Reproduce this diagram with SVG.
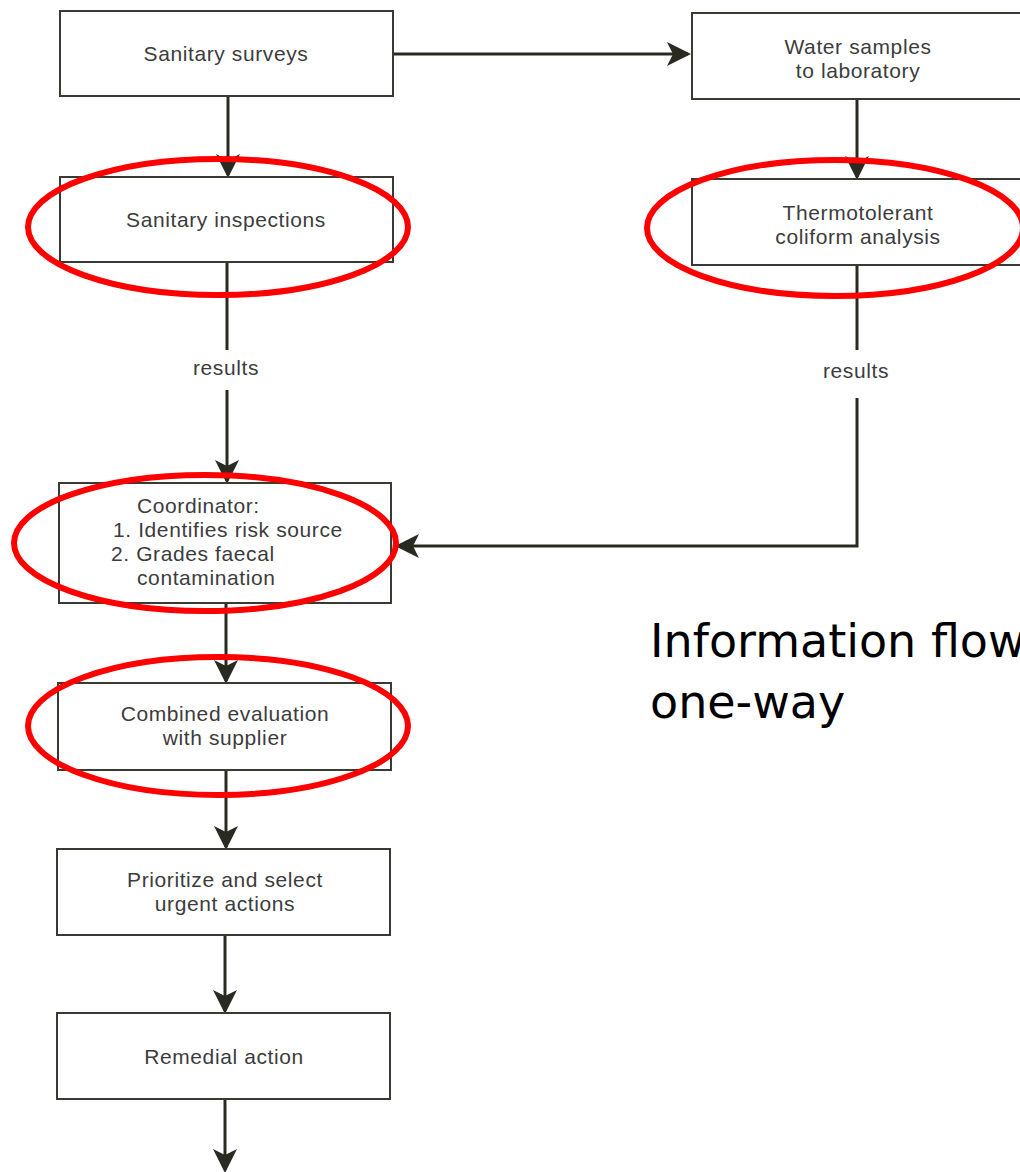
<svg xmlns="http://www.w3.org/2000/svg" width="1020" height="1172" viewBox="0 0 1020 1172">
<style>
.box{fill:#fff;stroke:#3a3a32;stroke-width:2}
.t{font-family:"Liberation Sans",Arial,sans-serif;font-size:21px;letter-spacing:0.6px;fill:#3c3c3c;text-anchor:middle}
.l{text-anchor:start}
.c{fill:none;stroke:#2a2a22;stroke-width:3}
.ring{fill:none;stroke:#f00;stroke-width:6}
.big{font-family:"DejaVu Sans",Tahoma,sans-serif;font-size:46px;fill:#000}
</style>
<defs>
<marker id="ah" markerWidth="8" markerHeight="8" refX="7" refY="4" orient="auto" markerUnits="strokeWidth">
<path d="M0,0 L8,4 L0,8 L2,4 Z" fill="#2a2a22"/>
</marker>
</defs>
<g id="connectors">
<line class="c" x1="393" y1="54" x2="688" y2="54" marker-end="url(#ah)"/>
<line class="c" x1="228" y1="96" x2="228" y2="175" marker-end="url(#ah)"/>
<line class="c" x1="857" y1="99" x2="857" y2="177" marker-end="url(#ah)"/>
<line class="c" x1="227" y1="262" x2="227" y2="350"/>
<line class="c" x1="227" y1="390" x2="227" y2="481" marker-end="url(#ah)"/>
<polyline class="c" points="857,265 857,350"/>
<polyline class="c" points="857,398 857,546 398,546" marker-end="url(#ah)"/>
<line class="c" x1="226" y1="603" x2="226" y2="681" marker-end="url(#ah)"/>
<line class="c" x1="226" y1="770" x2="226" y2="847" marker-end="url(#ah)"/>
<line class="c" x1="225" y1="935" x2="225" y2="1011" marker-end="url(#ah)"/>
<line class="c" x1="225" y1="1099" x2="225" y2="1170" marker-end="url(#ah)"/>
<text class="t" x="226" y="375">results</text>
<text class="t" x="856" y="378">results</text>
</g>
<g id="n1"><rect class="box" x="60" y="11" width="333" height="85"/><text class="t" x="226" y="61">Sanitary surveys</text></g>
<g id="n2"><rect class="box" x="60" y="177" width="333" height="85"/><text class="t" x="226" y="227">Sanitary inspections</text></g>
<g id="n3"><rect class="box" x="692" y="13" width="340" height="86"/><text class="t" x="858" y="54">Water samples</text><text class="t" x="858" y="78">to laboratory</text></g>
<g id="n4"><rect class="box" x="692" y="179" width="340" height="86"/><text class="t" x="858" y="220">Thermotolerant</text><text class="t" x="858" y="244">coliform analysis</text></g>
<g id="n5"><rect class="box" x="59" y="483" width="332" height="120"/>
<text class="t l" x="137" y="513">Coordinator:</text>
<text class="t l" x="113" y="537">1. Identifies risk source</text>
<text class="t l" x="111" y="561">2. Grades faecal</text>
<text class="t l" x="137" y="585">contamination</text></g>
<g id="n6"><rect class="box" x="58" y="683" width="333" height="87"/><text class="t" x="225" y="721">Combined evaluation</text><text class="t" x="225" y="745">with supplier</text></g>
<g id="n7"><rect class="box" x="57" y="849" width="333" height="86"/><text class="t" x="225" y="887">Prioritize and select</text><text class="t" x="225" y="911">urgent actions</text></g>
<g id="n8"><rect class="box" x="57" y="1013" width="333" height="86"/><text class="t" x="224" y="1064">Remedial action</text></g>
<g id="highlights">
<ellipse class="ring" cx="218" cy="227" rx="190" ry="68"/>
<ellipse class="ring" cx="835" cy="228" rx="188" ry="68"/>
<ellipse class="ring" cx="205" cy="543" rx="191" ry="68"/>
<ellipse class="ring" cx="218" cy="726" rx="190" ry="69"/>
</g>
<text class="big" x="650" y="657">Information flow</text>
<text class="big" x="650" y="718">one-way</text>
</svg>
